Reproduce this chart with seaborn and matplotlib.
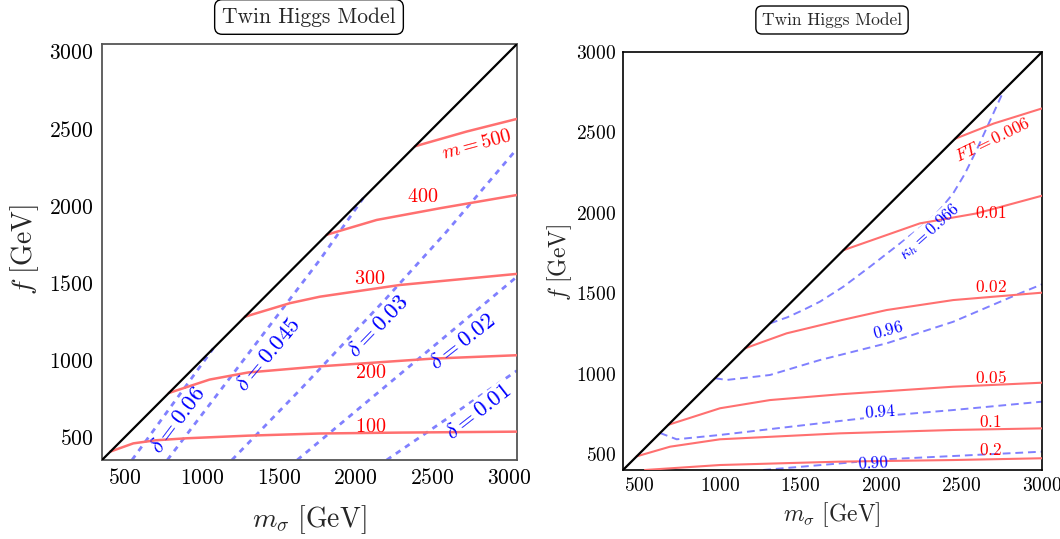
import matplotlib
matplotlib.use("Agg")
import matplotlib.pyplot as plt
import seaborn as sns
import pandas as pd

# ---- left panel: m contours (red) and delta contours (blue dashed) ----
m100_x = [405, 554, 700, 901, 1300, 1768, 2300, 3050]
m100_f = [405, 458, 478, 491, 508, 522, 528, 534]
m200_x = [785, 1050, 1300, 1770, 2500, 3050]
m200_f = [785, 872, 918, 958, 1008, 1030]
m300_x = [1280, 1573, 1768, 2289, 3050]
m300_f = [1280, 1368, 1410, 1486, 1558]
m400_x = [1812, 2137, 2549, 3050]
m400_f = [1812, 1908, 1984, 2070]
m500_x = [2386, 2723, 3050]
m500_f = [2386, 2482, 2564]

d06_x = [545, 1074]
d06_f = [350, 1074]
d045_x = [775, 1768, 2050]
d045_f = [350, 1650, 2050]
d03_x = [1195, 1638, 2200, 2590, 3050]
d03_f = [350, 805, 1400, 1830, 2370]
d02_x = [1620, 3050]
d02_f = [350, 1540]
d01_x = [2202, 3050]
d01_f = [350, 930]

# ---- right panel: FT contours (red) and kappa_h contours (blue dashed) ----
ft006_x = [2460, 2700, 3000]
ft006_f = [2460, 2555, 2649]
ft01_x = [1767, 2242, 2594, 3000]
ft01_f = [1767, 1934, 1996, 2106]
ft02_x = [1157, 1415, 1746, 2036, 2449, 3000]
ft02_f = [1157, 1250, 1330, 1395, 1457, 1503]
ft05_x = [681, 1002, 1312, 1746, 2449, 3000]
ft05_f = [681, 784, 835, 871, 918, 943]
ft1_x = [485, 692, 1002, 1746, 2449, 3000]
ft1_f = [485, 545, 591, 628, 649, 659]
ft2_x = [536, 1002, 1746, 2449, 3000]
ft2_f = [400, 431, 452, 462, 473]

k966_x = [1312, 1420, 1518, 1622, 1767, 1932, 2036, 2139, 2304, 2380, 2449,
          2520, 2594, 2765]
k966_f = [1312, 1350, 1395, 1447, 1540, 1664, 1745, 1825, 1955, 2035, 2121,
          2240, 2390, 2765]
k96_x = [971, 1043, 1312, 1622, 2036, 2449, 2863, 3000]
k96_f = [971, 960, 991, 1084, 1188, 1322, 1499, 1555]
k94_x = [630, 733, 1002, 1746, 2036, 2449, 3000]
k94_f = [630, 591, 618, 705, 738, 773, 825]
k90_x = [1270, 1746, 2036, 2449, 3000]
k90_f = [400, 441, 467, 487, 514]

sns.set_theme(style="white")
plt.rcParams["font.family"] = "serif"
plt.rcParams["font.serif"] = ["cmr10"]
plt.rcParams["mathtext.fontset"] = "cm"
plt.rcParams["axes.formatter.use_mathtext"] = True
plt.rcParams["axes.unicode_minus"] = False

RED = "#ff7070"
BLUE = "#8080ff"

fig = plt.figure(figsize=(10.6, 5.39), dpi=100)
ax1 = fig.add_axes([102 / 1060, 79 / 539, 415 / 1060, 416 / 539])
ax2 = fig.add_axes([623 / 1060, 69 / 539, 419 / 1060, 418 / 539])


def curve(ax, x, y, color, ls, lw, z):
    df = pd.DataFrame({"x": x, "y": y})
    sns.lineplot(data=df, x="x", y="y", ax=ax, color=color, linestyle=ls,
                 lw=lw, sort=False, estimator=None, zorder=z)


def label(ax, txt, x, y, rot, color, size, mask=False):
    if mask:
        # white patch that breaks the dashed line under its own label
        ax.text(x, y, txt, color="white", fontsize=size, rotation=rot,
                ha="center", va="center", rotation_mode="anchor", zorder=2.5,
                bbox=dict(boxstyle="square,pad=0.05", fc="white", ec="none"))
    ax.text(x, y, txt, color=color, fontsize=size, rotation=rot,
            ha="center", va="center", rotation_mode="anchor", zorder=5)


# left panel
lo, hi = 350, 3050
curve(ax1, [lo, hi], [lo, hi], "black", "-", 1.6, 4)
for x, y in [(m100_x, m100_f), (m200_x, m200_f), (m300_x, m300_f),
             (m400_x, m400_f), (m500_x, m500_f)]:
    curve(ax1, x, y, RED, "-", 1.8, 3)
for x, y in [(d06_x, d06_f), (d045_x, d045_f), (d03_x, d03_f),
             (d02_x, d02_f), (d01_x, d01_f)]:
    curve(ax1, x, y, BLUE, (0, (2, 2)), 2.0, 2)
ax1.set_xlim(lo, hi)
ax1.set_ylim(lo, hi)

for txt, x, y, rot in [(r"$\delta = 0.06$", 844, 610, 53),
                       (r"$\delta = 0.045$", 1430, 1032, 50),
                       (r"$\delta = 0.03$", 2146, 1214, 46),
                       (r"$\delta = 0.02$", 2699, 1116, 38),
                       (r"$\delta = 0.01$", 2796, 662, 38)]:
    label(ax1, txt, x, y, rot, "blue", 16.5, mask=True)
for txt, x, y, rot in [(r"$m = 500$", 2790, 2395, 15),
                       (r"$400$", 2438, 2058, 0),
                       (r"$300$", 2094, 1525, 0),
                       (r"$200$", 2100, 915, 0),
                       (r"$100$", 2100, 564, 0)]:
    label(ax1, txt, x, y, rot, "red", 14.5)

ax1.set_xticks([500, 1000, 1500, 2000, 2500, 3000])
ax1.set_yticks([500, 1000, 1500, 2000, 2500, 3000])
ax1.tick_params(direction="in", length=4, labelsize=15.5, colors="#444444",
                labelcolor="black", pad=6)
ax1.set_xlabel("")
ax1.set_ylabel("")
for s in ax1.spines.values():
    s.set_color("#555555")
    s.set_linewidth(1.3)

# right panel
lo2, hi2 = 400, 3000
curve(ax2, [lo2, hi2], [lo2, hi2], "black", "-", 1.6, 4)
for x, y in [(ft006_x, ft006_f), (ft01_x, ft01_f), (ft02_x, ft02_f),
             (ft05_x, ft05_f), (ft1_x, ft1_f), (ft2_x, ft2_f)]:
    curve(ax2, x, y, RED, "-", 1.5, 3)
for x, y in [(k966_x, k966_f), (k96_x, k96_f), (k94_x, k94_f), (k90_x, k90_f)]:
    curve(ax2, x, y, BLUE, (0, (4, 2.5)), 1.4, 2)
ax2.set_xlim(lo2, hi2)
ax2.set_ylim(lo2, hi2)

for txt, x, y, rot in [(r"$FT = 0.006$", 2691, 2457, 26),
                       (r"$0.01$", 2681, 2000, 0),
                       (r"$0.02$", 2681, 1536, 0),
                       (r"$0.05$", 2681, 974, 0),
                       (r"$0.1$", 2677, 700, 0),
                       (r"$0.2$", 2681, 524, 0)]:
    label(ax2, txt, x, y, rot, "red", 12.5)
for txt, x, y, rot in [(r"$\kappa_h = 0.966$", 2304, 1882, 42),
                       (r"$0.96$", 2046, 1271, 15),
                       (r"$0.94$", 1994, 763, 4),
                       (r"$0.90$", 1953, 445, 3)]:
    label(ax2, txt, x, y, rot, "blue", 12, mask=True)

ax2.set_xticks([500, 1000, 1500, 2000, 2500, 3000])
ax2.set_yticks([500, 1000, 1500, 2000, 2500, 3000])
ax2.tick_params(direction="in", length=4, labelsize=14, colors="#444444",
                labelcolor="black", pad=5)
ax2.set_xlabel("")
ax2.set_ylabel("")
for s in ax2.spines.values():
    s.set_color("black")
    s.set_linewidth(1.2)

# axis titles
fig.text(309 / 1060, 1 - 520 / 539, r"$m_\sigma\ [\mathrm{GeV}]$", fontsize=20,
         ha="center", va="center")
fig.text(25 / 1060, 1 - 250 / 539, r"$f\ [\mathrm{GeV}]$", fontsize=20,
         ha="center", va="center", rotation=90)
fig.text(832 / 1060, 1 - 515 / 539, r"$m_\sigma\ [\mathrm{GeV}]$", fontsize=17,
         ha="center", va="center")
fig.text(560 / 1060, 1 - 262 / 539, r"$f\ [\mathrm{GeV}]$", fontsize=17,
         ha="center", va="center", rotation=90)

box = dict(boxstyle="round,pad=0.35", fc="white", ec="black", lw=1.0)
fig.text(309 / 1060, 1 - 17 / 539, "Twin Higgs Model", fontsize=15.5,
         ha="center", va="center", bbox=box)
fig.text(832 / 1060, 1 - 20 / 539, "Twin Higgs Model", fontsize=12.5,
         ha="center", va="center", bbox=box)

fig.savefig("out.png", dpi=100)
